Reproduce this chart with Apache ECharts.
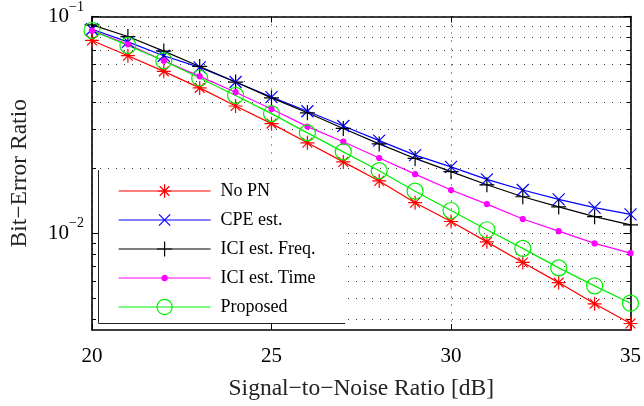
<!DOCTYPE html>
<html lang="en">
<head>
    <meta charset="UTF-8">
    <title>BER vs SNR</title>
    <script src="https://cdn.jsdelivr.net/npm/echarts@6.0.0/dist/echarts.min.js"></script>
    <style>
        html, body { margin: 0; padding: 0; background: #fff; }
    </style>
</head>
<body>
<div id="chart" style="width:644px;height:406px;"></div>
<script>
    // data
    var snr = [20, 21, 22, 23, 24, 25, 26, 27, 28, 29, 30, 31, 32, 33, 34, 35];
    var noPN = [0.0775, 0.0659, 0.0558, 0.0468, 0.0386, 0.0320, 0.0261, 0.0213, 0.0174, 0.0138, 0.0113, 0.0091, 0.00731, 0.00590, 0.00471, 0.00382];
    var cpeEst = [0.0873, 0.0763, 0.0659, 0.0582, 0.0498, 0.0424, 0.0365, 0.0312, 0.0267, 0.0229, 0.0202, 0.0177, 0.0158, 0.0143, 0.0131, 0.0122];
    var iciFreq = [0.0915, 0.0808, 0.0692, 0.0588, 0.0498, 0.0421, 0.0359, 0.0304, 0.0258, 0.0221, 0.0192, 0.0167, 0.0147, 0.0132, 0.0119, 0.0109];
    var iciTime = [0.0860, 0.0744, 0.0625, 0.0529, 0.0447, 0.0374, 0.0310, 0.0264, 0.0222, 0.0187, 0.0158, 0.0136, 0.0116, 0.0102, 0.00895, 0.00807];
    var proposed = [0.0862, 0.0735, 0.0625, 0.0520, 0.0432, 0.0356, 0.0290, 0.0237, 0.0194, 0.0156, 0.0127, 0.01035, 0.00849, 0.00690, 0.00570, 0.00474];

    var names = ['No PN', 'CPE est.', 'ICI est. Freq.', 'ICI est. Time', 'Proposed'];
    var majorTicks = [0.01, 0.1];
    var minorTicks = [0.004, 0.005, 0.006, 0.007, 0.008, 0.009, 0.01, 0.02, 0.03, 0.04, 0.05, 0.06, 0.07, 0.08, 0.09, 0.1];

    var yMin = 0.003564, yMax = 0.1;
    var font = 'Liberation Serif';

    function pairs(ys) {
        var out = [];
        for (var i = 0; i < snr.length; i++) {
            out.push([snr[i], ys[i]]);
        }
        return out;
    }

    var star = 'path://M0,-10L0,10M-10,0L10,0M-7,-7L7,7M-7,7L7,-7';
    var cross = 'path://M-10,-10L10,10M-10,10L10,-10';
    var plus = 'path://M0,-10L0,10M-10,0L10,0';

    // marker settings per series
    var markers = [
        {data: noPN, color: '#ff0000', symbol: star, size: 14, fill: 'rgba(0,0,0,0)', legH: 17},
        {data: cpeEst, color: '#0000ff', symbol: cross, size: 12, fill: 'rgba(0,0,0,0)', legH: 14},
        {data: iciFreq, color: '#000000', symbol: plus, size: 15, fill: 'rgba(0,0,0,0)', legH: 19},
        {data: iciTime, color: '#ff00ff', symbol: 'circle', size: 5, fill: '#ff00ff', legH: 6.5},
        {data: proposed, color: '#00ee00', symbol: 'circle', size: 16, fill: 'rgba(0,0,0,0)', legH: 19}
    ];

    var series = [];
    var legends = [];
    var rowY = [191, 220, 249, 278, 307];
    var legTextH = 22;
    for (var k = 0; k < markers.length; k++) {
        var m = markers[k];
        series.push({
            name: names[k],
            type: 'line',
            data: pairs(m.data),
            symbol: m.symbol,
            symbolSize: m.size,
            showAllSymbol: true,
            lineStyle: {color: m.color, width: 1.2},
            itemStyle: {color: m.fill, borderColor: m.color, borderWidth: 1.2},
            emphasis: {disabled: true},
            z: 2
        });
        legends.push({
            data: [names[k]],
            orient: 'vertical',
            left: 118,
            top: rowY[k] - Math.max(m.legH, legTextH) / 2,
            padding: 0,
            itemWidth: 92,
            itemHeight: m.legH,
            selectedMode: false,
            itemStyle: {color: m.fill, borderColor: m.color, borderWidth: 1.2},
            lineStyle: {color: m.color, width: 1.2},
            textStyle: {fontFamily: font, fontSize: 18, lineHeight: legTextH, color: '#000', padding: [0, 0, 0, 5]},
            z: 6
        });
    }

    function logLabel(v) {
        var e = Math.round(Math.log10(v));
        return '{b|10}{s|\u2212' + (-e) + '}';
    }

    var gridLine = {show: true, lineStyle: {color: '#333', width: 1, type: [1, 7]}};
    var boxLine = {show: true, onZero: false, lineStyle: {color: '#000', width: 1.6}};

    var myChart = echarts.init(document.getElementById('chart'));
    var option = {
        animation: false,
        backgroundColor: '#fff',
        grid: {left: 88, right: 11, top: 15, bottom: 71, containLabel: false},
        xAxis: [{
            type: 'value',
            min: 20, max: 35, interval: 5,
            position: 'bottom',
            name: 'Signal\u2212to\u2212Noise Ratio [dB]',
            nameLocation: 'middle',
            nameGap: 47,
            nameTextStyle: {fontFamily: font, fontSize: 23.5, color: '#222'},
            axisLine: boxLine,
            axisTick: {inside: true, length: 6, lineStyle: {color: '#000', width: 1}},
            axisLabel: {fontFamily: font, fontSize: 21, color: '#000', margin: 16},
            splitLine: gridLine
        }, {
            type: 'value',
            min: 20, max: 35, interval: 5,
            position: 'top',
            axisLine: boxLine,
            axisTick: {inside: true, length: 6, lineStyle: {color: '#000', width: 1}},
            axisLabel: {show: false},
            splitLine: {show: false}
        }],
        yAxis: [{
            type: 'log',
            logBase: 10,
            min: yMin, max: yMax,
            position: 'left',
            name: 'Bit\u2212Error Ratio',
            nameLocation: 'middle',
            nameGap: 60,
            nameTextStyle: {fontFamily: font, fontSize: 23.5, color: '#222'},
            axisLine: boxLine,
            axisTick: {inside: true, length: 4, customValues: minorTicks, lineStyle: {color: '#000', width: 1}},
            axisLabel: {
                customValues: majorTicks,
                margin: 8,
                formatter: logLabel,
                rich: {
                    b: {fontFamily: font, fontSize: 21, color: '#000', lineHeight: 33},
                    s: {fontFamily: font, fontSize: 14, color: '#000', lineHeight: 13, verticalAlign: 'top'}
                }
            },
            splitLine: gridLine,
            minorTick: {show: false},
            minorSplitLine: {show: false}
        }, {
            type: 'log',
            logBase: 10,
            min: yMin, max: yMax,
            position: 'left',
            axisLine: {show: false},
            axisTick: {inside: true, length: 7, customValues: majorTicks, lineStyle: {color: '#000', width: 1}},
            axisLabel: {show: false},
            splitLine: {show: false}
        }, {
            type: 'log',
            logBase: 10,
            min: yMin, max: yMax,
            position: 'right',
            axisLine: boxLine,
            axisTick: {inside: true, length: 4, customValues: minorTicks, lineStyle: {color: '#000', width: 1}},
            axisLabel: {show: false},
            splitLine: {show: false}
        }, {
            type: 'log',
            logBase: 10,
            min: yMin, max: yMax,
            position: 'right',
            axisLine: {show: false},
            axisTick: {inside: true, length: 7, customValues: majorTicks, lineStyle: {color: '#000', width: 1}},
            axisLabel: {show: false},
            splitLine: {show: false}
        }],
        legend: legends,
        // legend box: white panel with dark left and bottom edges
        graphic: [{
            type: 'rect',
            shape: {x: 98, y: 170, width: 247, height: 153},
            style: {fill: '#fff'},
            z: 3
        }, {
            type: 'polyline',
            shape: {points: [[98.5, 170], [98.5, 323.5], [345, 323.5]]},
            style: {stroke: '#222', lineWidth: 1, fill: null},
            z: 3
        }],
        series: series
    };
    myChart.setOption(option);
</script>
</body>
</html>
